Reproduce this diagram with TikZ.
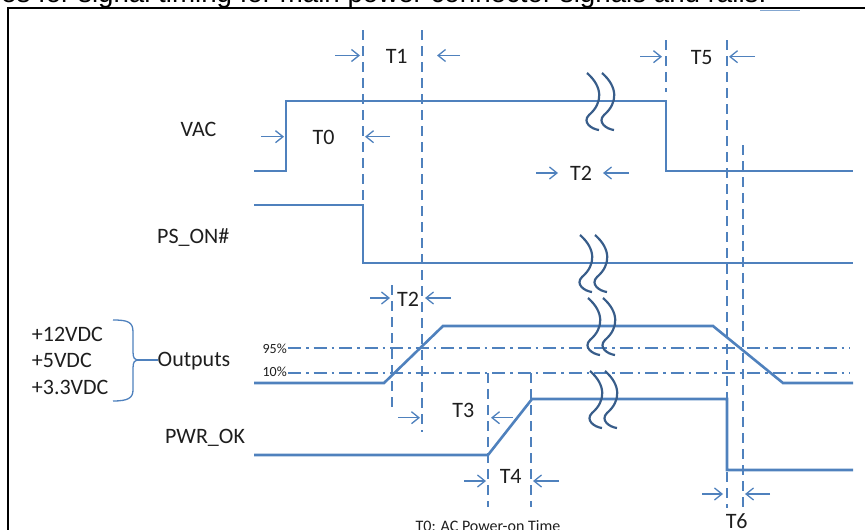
\documentclass[tikz,border=0pt]{standalone}
\usepackage{fontspec}
\setmainfont{Carlito}
\newfontfamily\capfont{Liberation Sans}
\usepackage{xcolor}
\usepackage{tikz}
\usetikzlibrary{arrows.meta, positioning}
\definecolor{sigblue}{RGB}{79,129,189}
\definecolor{brkblue}{RGB}{56,93,138}
\definecolor{txtgray}{RGB}{30,30,30}

\begin{document}
\begin{tikzpicture}[x=1pt, y=-1pt,
  sig/.style={sigblue, line width=2.6pt, line join=miter},
  guide/.style={sigblue, line width=2.2pt, dash pattern=on 10pt off 6pt},
  level/.style={sigblue, line width=2pt, dash pattern=on 13pt off 5pt on 2.5pt off 5pt},
  arr/.style={-{Straight Barb[length=7.5pt, width=12pt]}, sigblue, line width=1.3pt},
  brk/.style={brkblue, line width=2.2pt},
  brace/.style={sigblue, line width=1.3pt},
  lbl/.style={font=\fontsize{22}{26}\selectfont, text=txtgray, inner sep=0pt, anchor=base},
  pct/.style={font=\fontsize{14}{16}\selectfont, text=txtgray, inner sep=0pt, anchor=base east},
  frame/.style={black, line width=2pt}
]
  \useasboundingbox (0,0) rectangle (865,530);
  \clip (0,0) rectangle (865,530);

  % Cut caption and frame
  \node[font=\capfont\fontsize{27.7}{32}\selectfont, inner sep=0pt, anchor=base west] (cap) at (1,2.5) {es for signal timing for main power connector signals and rails.};
  \draw[frame] (8,531) -- (8,8) -- (866,8);
  \draw[sigblue!70, line width=1.5pt] (760,10.5) -- (800,10.5);
  \node[font=\fontsize{16}{19}\selectfont, text=txtgray, inner sep=0pt, anchor=base west] (note) at (415.5,531.5) {T0: AC Power-on Time};

  % 95% / 10% levels
  \node[pct] (p95) at (287,353) {95\%};
  \node[pct] (p10) at (287,376.5) {10\%};
  \draw[level] (288,348) -- (850,348);
  \draw[level] (288,373) -- (850,373);

  % Guide lines
  \foreach \gx/\gtop/\gbot in {363/30/205, 422/30/432, 392/285/408, 488/373/507, 531/373/507, 666/40/92, 727/40/508, 743/145/508}
    \draw[guide] (\gx,\gtop) -- (\gx,\gbot);

  % Waveforms
  \draw[sig] (254,171) -- (286,171) -- (286,101) -- (666,101) -- (666,171) -- (853,171);
  \draw[sig] (254,205) -- (363,205) -- (363,263) -- (853,263);
  \draw[sig] (254,383) -- (384,383) -- (443,326) -- (713,326) -- (783,383) -- (853,383);
  \draw[sig] (254,455) -- (488,455) -- (532,399) -- (727,399) -- (727,470) -- (853,470);

  % Breaks
  \foreach \bx/\by in {587/73, 580/235, 588/298, 590/371}
    \foreach \dx in {0,15}
      \draw[brk, shift={(\bx+\dx,\by)}] (0,0) .. controls (16,14) and (16,30) .. (2,42) .. controls (-5,49) and (4,56) .. (12,57);

  % Signal names
  \node[lbl] (vac) at (198.5,136.7) {VAC};
  \node[lbl] (pson) at (193.3,243) {PS\_ON\#};
  \node[lbl] (outs) at (194,366) {Outputs};
  \node[lbl] (pwrok) at (205,443) {PWR\_OK};
  \node[lbl, anchor=base west] (v12) at (31.7,341.7) {+12VDC};
  \node[lbl, anchor=base west] (v5) at (31.7,367) {+5VDC};
  \node[lbl, anchor=base west] (v33) at (31.7,394) {+3.3VDC};

  % Brace
  \coordinate (tip) at (137,360);
  \draw[brace] (113,320) .. controls (128,320) and (133,322) .. (133,332) -- (133,352)
    .. controls (133,358) and (135,360) .. (tip)
    .. controls (135,360) and (133,362) .. (133,368) -- (133,390)
    .. controls (133,398) and (128,401) .. (113,401);
  \draw[brace] (tip) -- (tip -| outs.west);

  % Timing marks
  \node[lbl] (t1) at (396.7,63) {T1};
  \node[lbl] (t0) at (323.5,144) {T0};
  \node[lbl] (t5) at (701.7,64) {T5};
  \node[lbl] (t2b) at (581,180.5) {T2};
  \node[lbl] (t2a) at (408,306.5) {T2};
  \node[lbl] (t3) at (463.3,417) {T3};
  \node[lbl] (t4) at (510.7,483) {T4};
  \node[lbl] (t6) at (736.7,528) {T6};
  \foreach \ax/\hx/\ay in {335/360/55.5, 460/437/55.5, 261/284/136.7, 390/365/136.7,
      640/662/56.7, 755/729/56.7, 536/558/173, 629/603/173, 370/390/298, 451/425/298,
      398/420/417.7, 513/491/417.7, 464/486/481, 559/533/481, 702/723/494, 770/745/494}
    \draw[arr] (\ax,\ay) -- (\hx,\ay);
\end{tikzpicture}
\end{document}
